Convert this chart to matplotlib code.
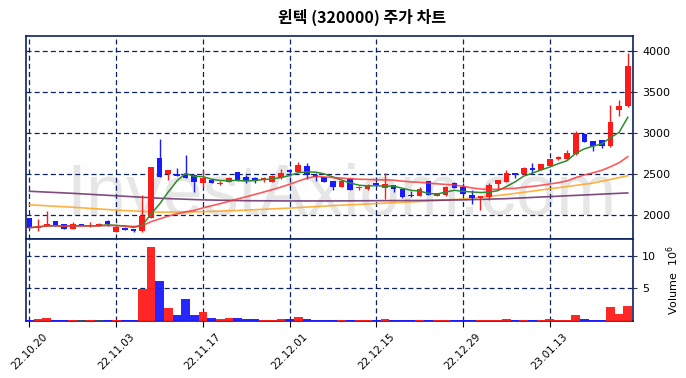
import matplotlib
matplotlib.use('Agg')
import matplotlib.pyplot as plt
import pandas as pd

# daily candles, 22.10.20 .. 23.01.30
opens = [1960, 1840, 1865, 1925, 1890, 1835, 1890, 1860, 1875, 1925,
         1797, 1845, 1830, 1800, 1960, 2700, 2500, 2505, 2505, 2490,
         2395, 2425, 2375, 2405, 2520, 2465, 2455, 2430, 2405, 2450,
         2555, 2530, 2600, 2490, 2465, 2415, 2345, 2440, 2325, 2315,
         2395, 2325, 2365, 2315, 2250, 2235, 2415, 2235, 2245, 2395,
         2345, 2245, 2205, 2225, 2375, 2405, 2510, 2500, 2580, 2550,
         2600, 2680, 2680, 2745, 2995, 2900, 2915, 2840, 3280, 3330]
highs = [1965, 1950, 2050, 1930, 1895, 1920, 1895, 1910, 1900, 1935,
         1860, 1850, 1835, 2250, 2590, 2925, 2555, 2580, 2730, 2500,
         2550, 2440, 2410, 2470, 2525, 2490, 2465, 2470, 2485, 2560,
         2560, 2645, 2630, 2510, 2470, 2420, 2425, 2445, 2360, 2385,
         2400, 2515, 2370, 2330, 2290, 2345, 2420, 2270, 2360, 2400,
         2395, 2305, 2235, 2390, 2430, 2550, 2515, 2590, 2630, 2625,
         2690, 2715, 2795, 3025, 3000, 2905, 2920, 3340, 3410, 3985]
lows = [1840, 1800, 1860, 1860, 1830, 1830, 1860, 1850, 1870, 1860,
        1795, 1815, 1795, 1795, 1960, 2470, 2430, 2475, 2450, 2285,
        2345, 2390, 2365, 2400, 2410, 2395, 2395, 2400, 2400, 2440,
        2480, 2525, 2445, 2415, 2400, 2305, 2340, 2300, 2310, 2310,
        2360, 2195, 2285, 2210, 2225, 2230, 2245, 2230, 2230, 2330,
        2240, 2140, 2060, 2180, 2305, 2400, 2450, 2495, 2505, 2545,
        2595, 2670, 2675, 2735, 2890, 2780, 2820, 2830, 3205, 3320]
closes = [1845, 1865, 1890, 1875, 1835, 1885, 1865, 1875, 1885, 1890,
          1855, 1820, 1800, 1990, 2590, 2470, 2550, 2480, 2455, 2405,
          2455, 2395, 2395, 2455, 2415, 2415, 2430, 2455, 2480, 2515,
          2530, 2610, 2495, 2470, 2405, 2345, 2420, 2310, 2345, 2355,
          2365, 2385, 2315, 2215, 2230, 2315, 2250, 2265, 2345, 2335,
          2255, 2210, 2230, 2365, 2425, 2510, 2495, 2580, 2550, 2620,
          2685, 2705, 2760, 3000, 2895, 2845, 2845, 3135, 3330, 3815]
volume_m = [0.15, 0.3, 0.45, 0.15, 0.15, 0.15, 0.05, 0.15, 0.05, 0.15,
            0.15, 0.15, 0.15, 4.9, 11.35, 6.1, 2.0, 0.9, 3.35, 0.9,
            1.4, 0.45, 0.3, 0.45, 0.45, 0.3, 0.3, 0.15, 0.15, 0.3,
            0.3, 0.6, 0.3, 0.15, 0.15, 0.15, 0.15, 0.1, 0.15, 0.15,
            0.15, 0.3, 0.1, 0.1, 0.1, 0.15, 0.1, 0.15, 0.15, 0.1,
            0.1, 0.15, 0.15, 0.15, 0.15, 0.3, 0.1, 0.15, 0.1, 0.15,
            0.3, 0.15, 0.15, 0.9, 0.3, 0.1, 0.1, 2.15, 1.05, 2.3]

# long moving averages need history before the window
ma_long_idx = [0, 5, 10, 15, 20, 25, 30, 35, 40, 45, 50, 55, 60, 65, 69]
ma60_vals = [2125, 2095, 2060, 2035, 2040, 2060, 2085, 2115, 2140, 2165,
             2195, 2250, 2320, 2390, 2480]
ma120_vals = [2290, 2265, 2235, 2205, 2185, 2175, 2172, 2172, 2175, 2178,
              2185, 2200, 2225, 2250, 2270]

tick_labels = ['22.10.20', '22.11.03', '22.11.17', '22.12.01',
               '22.12.15', '22.12.29', '23.01.13']

RED = '#ff1a1a'
BLUE = '#1a1aff'
NAVY = '#0a2260'

n = len(closes)
x = list(range(n))
colors = [RED if c >= o else BLUE for o, c in zip(opens, closes)]
body_bottom = [min(o, c) for o, c in zip(opens, closes)]
body_height = [max(abs(c - o), 12) for o, c in zip(opens, closes)]

cs = pd.Series(closes)
ma5 = cs.rolling(5, min_periods=1).mean()
ma20 = cs.rolling(20, min_periods=1).mean()

plt.rcParams['font.family'] = ['DejaVu Sans']

fig = plt.figure(figsize=(6.86, 3.78), dpi=100)
ax = fig.add_axes([0.0379, 0.3677, 0.8848, 0.5371])
ax2 = fig.add_axes([0.0379, 0.1508, 0.8848, 0.2169], sharex=ax)

fig.text(0.528, 0.953, '윈텍 (320000) 주가 차트', ha='center', va='center',
         fontsize=11.5, fontweight='bold',
         family=['Noto Sans CJK KR', 'DejaVu Sans'])

# watermark
ax.text(0.52, 0.12, 'InvestAxiom.com', transform=ax.transAxes,
        ha='center', va='baseline', fontsize=52, color='#e6e6e6',
        family='Liberation Sans', zorder=0)

ax.vlines(x, lows, highs, colors=colors, linewidth=1, zorder=3)
ax.bar(x, body_height, bottom=body_bottom, width=0.65, color=colors, zorder=4)

ax.plot(x, ma5, color='#2e8b2e', linewidth=1.1, zorder=5)
ax.plot(x, ma20, color='#ff3030', alpha=0.8, linewidth=1.2, zorder=5)
ax.plot(ma_long_idx, ma60_vals, color='#ffa520', alpha=0.85, linewidth=1.2, zorder=2)
ax.plot(ma_long_idx, ma120_vals, color='#6a2c6a', alpha=0.85, linewidth=1.2, zorder=2)

ax2.bar(x, volume_m, width=1.0, color=colors, alpha=0.95, zorder=3)

for a in (ax, ax2):
    a.set_axisbelow(True)
    a.grid(True, color=NAVY, linestyle=(0, (4, 2.5)), linewidth=0.9)
    a.yaxis.tick_right()
    a.tick_params(axis='y', labelsize=8, color='#333333', length=3)
    for s in a.spines.values():
        s.set_color(NAVY)
        s.set_linewidth(1.2)

ax.set_xlim(-0.4, 69.6)
ax.set_ylim(1707, 4187)
ax.set_yticks([2000, 2500, 3000, 3500, 4000])
ax.tick_params(axis='x', bottom=False, labelbottom=False)

ax2.set_ylim(0, 12.55)
ax2.set_yticks([5, 10])
ax2.set_xticks(range(0, n, 10))
ax2.set_xticklabels(tick_labels, rotation=45, ha='center', fontsize=7.5)
ax2.tick_params(axis='x', length=4)
ax2.yaxis.set_label_position('right')
ax2.set_ylabel('Volume  $10^6$', fontsize=8, labelpad=6)

fig.savefig('out.png', dpi=100, facecolor='white')
